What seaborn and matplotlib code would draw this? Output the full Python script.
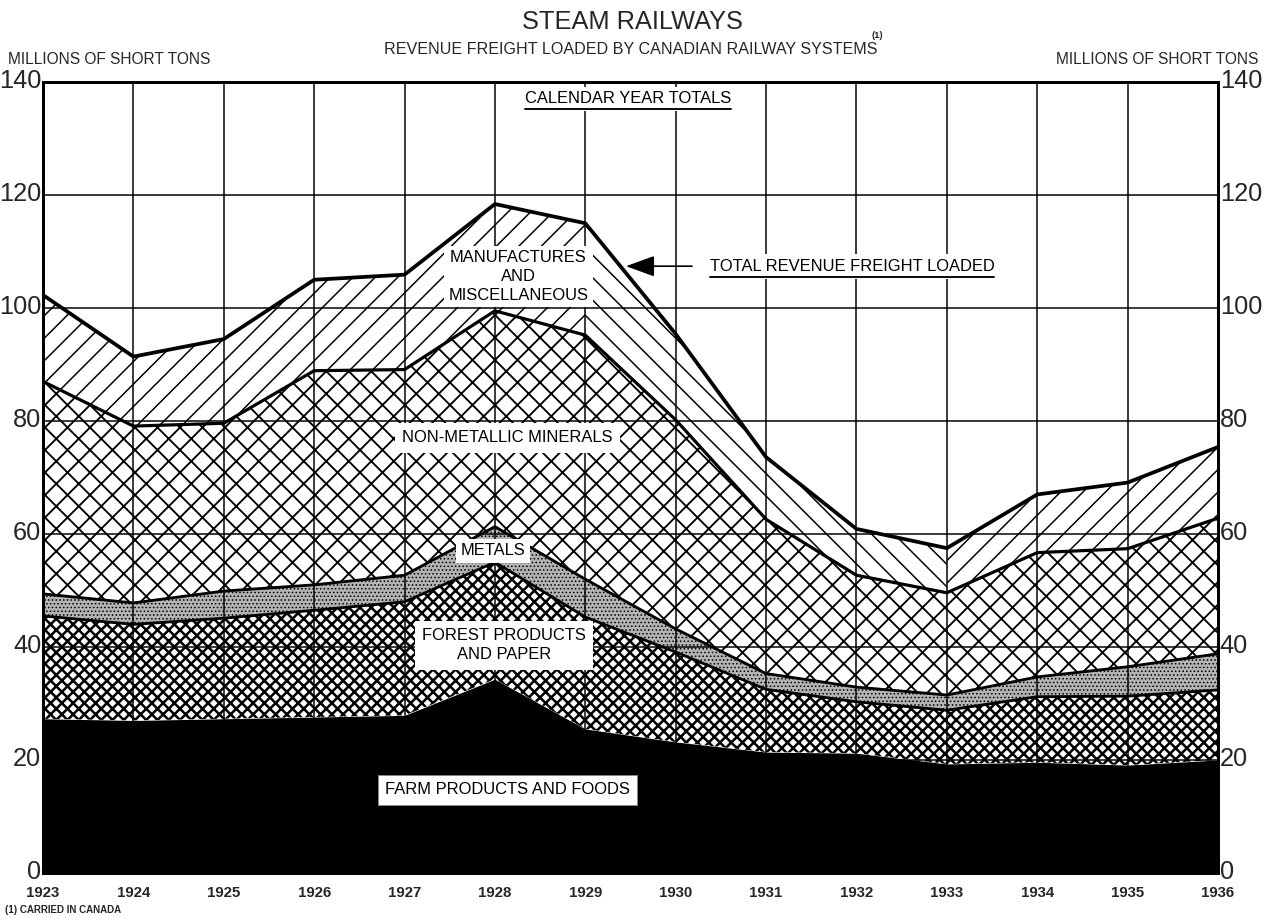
import numpy as np
import pandas as pd
import matplotlib
matplotlib.use("Agg")
import matplotlib.pyplot as plt
import matplotlib.transforms as mtransforms
from matplotlib.lines import Line2D
import seaborn as sns

# Revenue freight loaded by Canadian railway systems, millions of short tons
years = [1923, 1924, 1925, 1926, 1927, 1928, 1929, 1930, 1931, 1932, 1933, 1934, 1935, 1936]
farm_products = [27.3, 27.0, 27.3, 27.6, 27.9, 34.3, 25.5, 23.2, 21.4, 21.2, 19.3, 19.6, 19.1, 20.0]
forest_products = [18.2, 17.0, 17.8, 18.9, 20.1, 20.7, 19.8, 15.9, 11.1, 9.1, 9.5, 11.6, 12.2, 12.4]
metals = [3.9, 3.8, 4.8, 4.5, 4.7, 6.3, 6.7, 4.1, 2.8, 2.6, 2.7, 3.5, 5.2, 6.4]
non_metallic = [37.6, 31.3, 29.7, 37.9, 36.4, 38.2, 43.2, 37.0, 27.3, 19.8, 18.1, 22.0, 20.9, 24.0]
manufactures = [15.3, 12.3, 14.9, 16.1, 16.8, 18.9, 19.8, 15.2, 11.0, 8.2, 7.9, 10.3, 11.7, 12.6]

y_ticks = [0, 20, 40, 60, 80, 100, 120, 140]

df = pd.DataFrame({
    "year": years,
    "farm": farm_products,
    "forest": forest_products,
    "metals": metals,
    "nonmet": non_metallic,
    "manuf": manufactures,
})
layers = ["farm", "forest", "metals", "nonmet", "manuf"]
cum = df[layers].cumsum(axis=1)
df["total"] = cum["manuf"]

sns.set_theme(style="white")
plt.rcParams["font.family"] = ["Liberation Sans", "DejaVu Sans"]

DPI = 135
fig = plt.figure(figsize=(1264 / DPI, 919 / DPI), dpi=DPI, facecolor="white")
ax = fig.add_axes([43 / 1264, 1 - 873 / 919, (1218 - 43) / 1264, (873 - 82) / 919])
ax.set_facecolor("white")

x = np.array(years, dtype=float)


def band(lo, hi, idx, hatch, face="white", hlw=0.8, z=1):
    with plt.rc_context({"hatch.linewidth": hlw, "hatch.color": "black"}):
        coll = ax.fill_between(x[idx], np.asarray(lo)[idx], np.asarray(hi)[idx],
                               facecolor=face, edgecolor="black", linewidth=0,
                               hatch=hatch, zorder=z)
    if hasattr(coll, "set_hatch_linewidth"):
        coll.set_hatch_linewidth(hlw)
    return coll


all_idx = slice(None)
zero = np.zeros(len(years))
# farm products: solid black
ax.fill_between(x, zero, cum["farm"], facecolor="black", edgecolor="black", linewidth=0, zorder=1)
# forest products: fine dense cross-hatch
band(cum["farm"], cum["forest"], all_idx, "xxxx", hlw=1.35)
# metals: stipple
band(cum["forest"], cum["metals"], all_idx, "......", face="#b4b4b4", hlw=0.5)
# non-metallic minerals: open cross-hatch
band(cum["metals"], cum["nonmet"], all_idx, "xx", hlw=1.0)
# manufactures and miscellaneous: diagonal rule, direction changes in the slump years
band(cum["nonmet"], cum["manuf"], slice(0, 7), "//", hlw=0.8)
band(cum["nonmet"], cum["manuf"], slice(6, 11), "\\\\", hlw=0.8)
band(cum["nonmet"], cum["manuf"], slice(10, None), "//", hlw=0.8)

# boundaries between the layers and the total
for col, lw in [("forest", 1.5), ("metals", 1.5), ("nonmet", 1.7)]:
    sns.lineplot(x=df["year"], y=cum[col], ax=ax, color="black", linewidth=lw, zorder=2)
sns.lineplot(x=df["year"], y=df["total"], ax=ax, color="black", linewidth=2.0, zorder=2)

ax.set_xlim(1923, 1936)
ax.set_ylim(0, 140)
ax.set_xticks(years)
ax.set_xticklabels([str(y) for y in years], fontsize=8, fontweight="bold")
ax.set_yticks(y_ticks)
ax.set_yticklabels([str(v) for v in y_ticks], fontsize=13.5)
ax.tick_params(axis="y", which="both", length=0, pad=1, labelleft=True, labelright=True)
ax.tick_params(axis="x", length=0, pad=7)
ax.set_xlabel("")
ax.set_ylabel("")

# lift the value labels a little so the zeros clear the year labels
lift = mtransforms.ScaledTranslation(0, 2 / 72, fig.dpi_scale_trans)
for tk in ax.yaxis.get_major_ticks():
    for lbl in (tk.label1, tk.label2):
        lbl.set_transform(lbl.get_transform() + lift)

ax.set_axisbelow(False)
ax.grid(True, color="black", linewidth=0.8)
for s in ax.spines.values():
    s.set_visible(True)
    s.set_color("black")
    s.set_linewidth(1.6)

lab = dict(ha="center", va="center", fontsize=8.8, color="black", zorder=5)
box = dict(facecolor="white", edgecolor="none", boxstyle="square,pad=0.45")

t_cal = ax.text(1929.47, 137.0, "CALENDAR YEAR TOTALS", bbox=dict(facecolor="white", edgecolor="none",
                boxstyle="square,pad=0.3"), **lab)
ax.text(1928.26, 105.6, "MANUFACTURES\nAND\nMISCELLANEOUS", linespacing=1.35,
        bbox=dict(facecolor="white", edgecolor="none", boxstyle="square,pad=0.25"), **lab)
t_tot = ax.text(1931.95, 107.4, "TOTAL REVENUE FREIGHT LOADED", bbox=dict(facecolor="white", edgecolor="none",
                boxstyle="square,pad=0.3"), **lab)
ax.annotate("", xy=(1929.45, 107.4), xytext=(1930.18, 107.4),
            arrowprops=dict(arrowstyle="-|>,head_length=1.1,head_width=0.4", color="black",
                            lw=0.9, shrinkA=0, shrinkB=0), zorder=5)
ax.text(1928.14, 77.0, "NON-METALLIC MINERALS", bbox=box, **lab)
ax.text(1927.98, 57.0, "METALS", bbox=dict(facecolor="white", edgecolor="none", boxstyle="square,pad=0.3"), **lab)
ax.text(1928.1, 40.3, "FOREST PRODUCTS\nAND PAPER", linespacing=1.35, bbox=box, **lab)
ax.text(1928.14, 14.7, "FARM PRODUCTS AND FOODS", bbox=dict(facecolor="white", edgecolor="#888888",
        linewidth=0.5, boxstyle="square,pad=0.45"), **lab)

# titles and side captions
fig.text(0.5, 1 - 22 / 919, "STEAM RAILWAYS", ha="center", va="center", fontsize=13.5)
t_sub = fig.text(631 / 1264, 1 - 50 / 919, "REVENUE FREIGHT LOADED BY CANADIAN RAILWAY SYSTEMS",
                 ha="center", va="center", fontsize=8.6)
fig.text(8 / 1264, 1 - 60 / 919, "MILLIONS OF SHORT TONS", ha="left", va="center", fontsize=8.3)
fig.text(1258 / 1264, 1 - 60 / 919, "MILLIONS OF SHORT TONS", ha="right", va="center", fontsize=8.3)
fig.text(5 / 1264, 1 - 910 / 919, "(1) CARRIED IN CANADA", ha="left", va="center",
         fontsize=5.2, fontweight="bold")

# underlines and the footnote mark need the rendered text extents
fig.canvas.draw()
renderer = fig.canvas.get_renderer()
inv = fig.transFigure.inverted()
for t in (t_cal, t_tot):
    bb = t.get_window_extent(renderer)
    (fx0, fy0), (fx1, _) = inv.transform([(bb.x0, bb.y0 - 3), (bb.x1, bb.y0 - 3)])
    fig.add_artist(Line2D([fx0, fx1], [fy0, fy0], transform=fig.transFigure,
                          color="black", linewidth=1.0, zorder=6))
bb = t_sub.get_window_extent(renderer)
sx, sy = inv.transform((bb.x1 - 6, bb.y1 + 2))
fig.text(sx, sy, "(1)", ha="left", va="bottom", fontsize=5, fontweight="bold")

fig.savefig("out.png", dpi=DPI, facecolor="white")
